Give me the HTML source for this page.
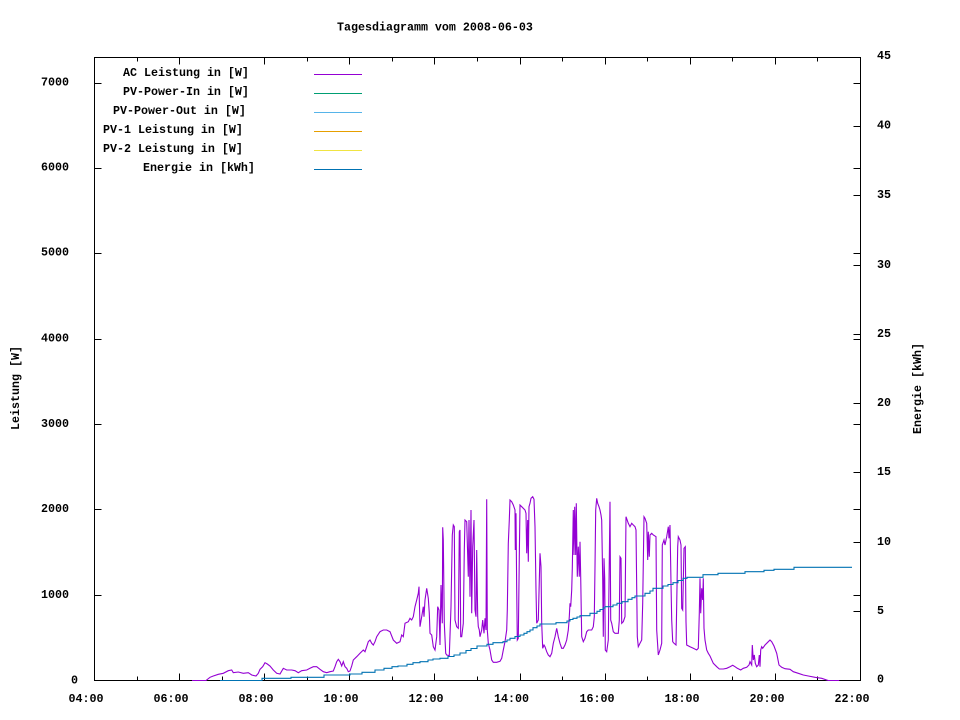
<!DOCTYPE html>
<html>
<head>
<meta charset="utf-8">
<style>
html,body{margin:0;padding:0;background:#fff;}
svg{display:block;}
text{font-family:"Liberation Mono","DejaVu Sans Mono",monospace;font-weight:bold;font-size:11.67px;fill:#000;}
</style>
</head>
<body>
<svg width="960" height="720" viewBox="0 0 960 720" xmlns="http://www.w3.org/2000/svg">
<rect x="0" y="0" width="960" height="720" fill="#fff"/>

<!-- title -->
<text x="337" y="30.5">Tagesdiagramm vom 2008-06-03</text>

<!-- axes frame and ticks -->
<g stroke="#000" stroke-width="1" fill="none" shape-rendering="crispEdges">
<rect x="94.5" y="57.5" width="766" height="623"/>
<!-- bottom ticks -->
<path d="M137.5,680.5v-4 M179.5,680.5v-7 M222.5,680.5v-4 M264.5,680.5v-7 M307.5,680.5v-4 M349.5,680.5v-7 M392.5,680.5v-4 M434.5,680.5v-7 M477.5,680.5v-4 M520.5,680.5v-7 M562.5,680.5v-4 M605.5,680.5v-7 M647.5,680.5v-4 M690.5,680.5v-7 M732.5,680.5v-4 M775.5,680.5v-7 M817.5,680.5v-4"/>
<!-- top ticks -->
<path d="M137.5,57.5v4 M179.5,57.5v7 M264.5,57.5v7 M307.5,57.5v4 M349.5,57.5v7 M392.5,57.5v4 M434.5,57.5v7 M477.5,57.5v4 M520.5,57.5v7 M562.5,57.5v4 M605.5,57.5v7 M647.5,57.5v4 M690.5,57.5v7 M732.5,57.5v4 M775.5,57.5v7 M817.5,57.5v4"/>
<!-- left y ticks + mirrored -->
<path d="M94.5,595.5h7 M94.5,509.5h7 M94.5,424.5h7 M94.5,339.5h7 M94.5,253.5h7 M94.5,168.5h7 M94.5,83.5h7"/>
<path d="M860.5,595.5h-7 M860.5,509.5h-7 M860.5,424.5h-7 M860.5,339.5h-7 M860.5,253.5h-7 M860.5,168.5h-7 M860.5,83.5h-7"/>
<!-- y2 ticks -->
<path d="M860.5,611.5h-7 M860.5,542.5h-7 M860.5,472.5h-7 M860.5,403.5h-7 M860.5,334.5h-7 M860.5,265.5h-7 M860.5,195.5h-7 M860.5,126.5h-7"/>
</g>

<!-- left y labels -->
<text x="71" y="683.3">0</text>
<g text-anchor="end">
<text x="69" y="598">1000</text>
<text x="69" y="512">2000</text>
<text x="69" y="427">3000</text>
<text x="69" y="341.5">4000</text>
<text x="69" y="255.5">5000</text>
<text x="69" y="170.5">6000</text>
<text x="69" y="85.5">7000</text>
</g>

<!-- right y2 labels -->
<g>
<text x="877" y="682.7">0</text>
<text x="877" y="614">5</text>
<text x="877" y="545">10</text>
<text x="877" y="475">15</text>
<text x="877" y="406">20</text>
<text x="877" y="337">25</text>
<text x="877" y="268">30</text>
<text x="877" y="198">35</text>
<text x="877" y="128.5">40</text>
<text x="877" y="59">45</text>
</g>

<!-- x labels -->
<g text-anchor="middle">
<text x="86" y="702">04:00</text>
<text x="171" y="702">06:00</text>
<text x="256" y="702">08:00</text>
<text x="341" y="702">10:00</text>
<text x="426" y="702">12:00</text>
<text x="511.5" y="702">14:00</text>
<text x="597" y="702">16:00</text>
<text x="682" y="702">18:00</text>
<text x="767" y="702">20:00</text>
<text x="852" y="702">22:00</text>
</g>

<!-- axis titles -->
<text text-anchor="middle" transform="translate(19,388) rotate(-90)">Leistung [W]</text>
<text text-anchor="middle" transform="translate(921,388.5) rotate(-90)">Energie [kWh]</text>

<!-- legend -->
<text x="123" y="76">AC Leistung in [W]</text>
<text x="123" y="95">PV-Power-In in [W]</text>
<text x="113" y="114">PV-Power-Out in [W]</text>
<text x="103" y="133">PV-1 Leistung in [W]</text>
<text x="103" y="152">PV-2 Leistung in [W]</text>
<text x="143" y="171">Energie in [kWh]</text>
<g stroke-width="1" shape-rendering="crispEdges">
<line x1="314" y1="74.5" x2="362" y2="74.5" stroke="#9400D3"/>
<line x1="314" y1="93.5" x2="362" y2="93.5" stroke="#009E73"/>
<line x1="314" y1="112.5" x2="362" y2="112.5" stroke="#56B4E9"/>
<line x1="314" y1="131.5" x2="362" y2="131.5" stroke="#E69F00"/>
<line x1="314" y1="150.5" x2="362" y2="150.5" stroke="#F0E442"/>
<line x1="314" y1="169.5" x2="362" y2="169.5" stroke="#0072B2"/>
</g>

<!-- AC Leistung -->
<polyline fill="none" stroke="#9400D3" stroke-width="1.1" stroke-linejoin="miter" points="
192,680.5 206,680.5 210,677.3 213.3,676 218.3,674.3 223.3,673.3 228.3,670.7 231.7,670 233.3,672.7 238.3,672 243.3,673.3 248.3,672.7 251.7,675 256,676 258.3,673.3 260,669.3 262.7,666.7 265,662.7 267.3,664 270,666 273.3,670 276.7,673.3 280,674 283.3,668.3 286.7,670 291.7,670 295,670.7 298.3,672.7 301.7,670.7 306.7,670 310,668.3 313.3,666.7 316.7,666.7 320,669.3 323.3,671.7 326.7,672.7 330,671.7 333.3,671 335,666.7 336.7,661.7 338.3,659.3 340,661.7 341.7,666 343.3,661.7 345,666.7 346.7,668.3 348.3,671.7 350,671 351.7,666 353.3,660 356.7,656.7 360,653.3 363.3,650 365,651.7 366.7,646.7 368.3,641.7 370,640 371.7,643.3 373.3,645 375,641.7 376.7,636.7 380,631.7 383.3,630 386.7,630 390,631.7 393.3,640 396.7,643.3 400,641.7
401.7,635 403.3,636.7 405,623.3 408.3,621.7 410,618.3 411.7,620 413.3,616.7 415,606.7 416.7,600 418.3,593.3 419,586.7 420,626.7 421.7,616.7 423.3,606.7 424,616.7 425,600 426.7,588.3 428.3,598.3 429.3,613.3 430,633.3 431.7,635 433.3,646.7 435,650 436.7,636.7 437.7,606.7 439,610 440,645 441,585 442.3,623.3 442.7,527.3 443.3,540 444.3,623.3 445.7,653.3 446.7,655 449.3,655.7 451,606.7 452.3,535 453.3,525 454.3,526.7 455,620 456.7,626.7 458.3,628.3 459.3,531.7 460,530 460.7,636.7 461.7,636.7 463.3,623.3 464.3,550 465,520 466.7,521.7 468.3,576.7 469,520 470,596.7 471,510 471.7,613.3 472.7,546.7 474,520 475,610 476,616.7 476.7,550 477.7,616.7 478.3,626.7 479.3,630 480,636.7 481.7,630 482.7,620 484,633.3 485,618.3 486,630 486.7,499.3 487.3,630 488.3,643.3 490,650 491.7,660 493.3,662.3 496.7,662.3 500,661.3 501.7,658.3 503.3,650 505,641.7 506.7,630 507.3,610 508.3,543.3 509.3,520 510,500 511.7,501.7 513.3,505 515,510 515.3,550 516,513.3 516.7,590 517.3,640 518.3,638.3 519.3,556.7 520,505 521.7,506.7 523.3,508.3 525,510 526,513.3 526.7,553.3 527.7,520 528.3,561.7 529,506.7 530,503.3 531,498.3 532.7,496.7 534,499.3 535,526.7 536,590 536.7,623.3 538.3,620 540,553.3 541,566.7 541.7,623.3 542.7,648.3 544,645 545,646.7 546.7,651.7 548.3,655 550,656.7 551.7,653.3 553.3,643.3 555,636.7 556.7,628.3 558.3,636.7 560,643.3
561.7,648.3 563.3,648.3 565,645 566.7,640 568.3,630 569.3,616.7 570,603.3 570.7,606.7 571.7,590 572.3,568.3 573.3,510 574,555 574.7,506.7 575.7,555 576.3,503.3 577.3,576.7 578.3,546.7 579.3,576.7 580,541.7 580.7,576.7 581.7,636.7 583.3,641.7 585,638.3 586.7,631.7 588.3,630 591.7,630 593.3,626.7 594.3,616.7 595,566.7 595.7,510 596.7,498.3 597.7,503.3 599,506.7 600,510 601,515 601.7,520 602.7,580 603.3,636.7 604,558.3 604.7,578.3 605.3,650 606.7,651.7 608.3,640 609.3,560 610,501.7 610.7,620 611.7,623.3 613.3,631.7 615,633.3 618.3,633.3 619.3,620 620,556.7 621,558.3 621.7,623.3 623.3,621.7 625,616.7 626,516.7 628.3,523.3 630,526.7 631.7,523.3 633.3,525 635,526.7 636,530 637.3,636.7 638.3,646.7 640,643.3 641.7,640 642.7,603.3 644,516.7 645,518.3 646.7,523.3 647.7,560 648.3,531.7 649.3,556.7 650,535 651.7,533.3 653.3,535 656,536.7 656.7,630 658.3,655 660,650 661.7,643.3 662.3,545 664,540 665,545 666.7,536.7 668.3,526.7 669,538.3 670,525 671,583.3 671.7,620 672.7,641.7 674,643.3 676,645 677.7,546.7 678.3,536.7 680,540 681,545 681.7,608.3 682.7,610 684,548.3 685.3,546.7 686,621.7 686.7,645 690,646.7 693.3,648.3 696.7,650 698.3,648.3 699.3,613.3 700,578.3 700.7,613.3 701.7,588.3 702.7,600 703.3,578.3 704,628.3 705,640 706.7,650 708.3,653.3 710,656
713.3,663.3 716.7,666.7 719.3,669 723.3,669 726.7,668.3 730,666.7 732.7,665.3 735,666.7 737.3,668.3 740.7,670 743.3,668.3 746.7,667.3 749,665 750,661.7 751.7,665 752.3,645 753.3,660 754.3,655 755.3,663.3 756.7,666.7 758.3,665 759.3,655 760,666.7 760.7,650 761.7,646.7 762.7,648.3 765,645 766.7,643.3 768.3,641.7 770,640 771.7,641.7 774,646 776.7,653.3 779,665 781.7,667.3 785,668.7 790,669.3 793.3,671.7 798.3,673.3 803.3,675 808.3,676 815,677.3 821.7,678.3 826.7,680 828.3,680.5 839.3,680.5"/>

<!-- Energie -->
<path fill="none" stroke="#0072B2" stroke-width="1.1" d="M220,680.5 H262 V678.3 H291 V677.3 H324 V675 H350 V674 H362 V672.3 H375 V670 H384 V668.3 H392 V666.7 H398 V666 H407 V664.3 H413 V662.7 H420 V661.7 H428 V660 H433 V659 H440 V658.3 H448 V656.5 H454 V655 H460 V653 H466 V650.5 H471 V648.5 H477 V646 H487 V644.3 H493 V642.7 H503 V641.7 H507 V640 H510 V638.3 H515 V636.5 H520 V635 H524 V633.3 H527 V631.7 H530 V630 H533 V627.7 H537 V626 H540 V624 H556 V622.7 H567 V621 H570 V619.5 H573 V618.3 H577 V617 H580 V615.7 H590 V613.3 H597 V611.3 H600 V609.5 H603 V608 H605 V606.7 H613 V605 H617 V603.3 H622 V601.7 H628 V599.3 H632 V597.7 H635 V596 H645 V593.3 H650 V591 H653 V588.3 H663 V586 H668 V584.5 H673 V582.7 H678 V580.5 H683 V578.3 H687 V577.3 H703 V574.7 H718 V573.3 H745 V571.7 H764 V570.3 H774 V569.3 H794 V567.3 H852"/>
</svg>
</body>
</html>
